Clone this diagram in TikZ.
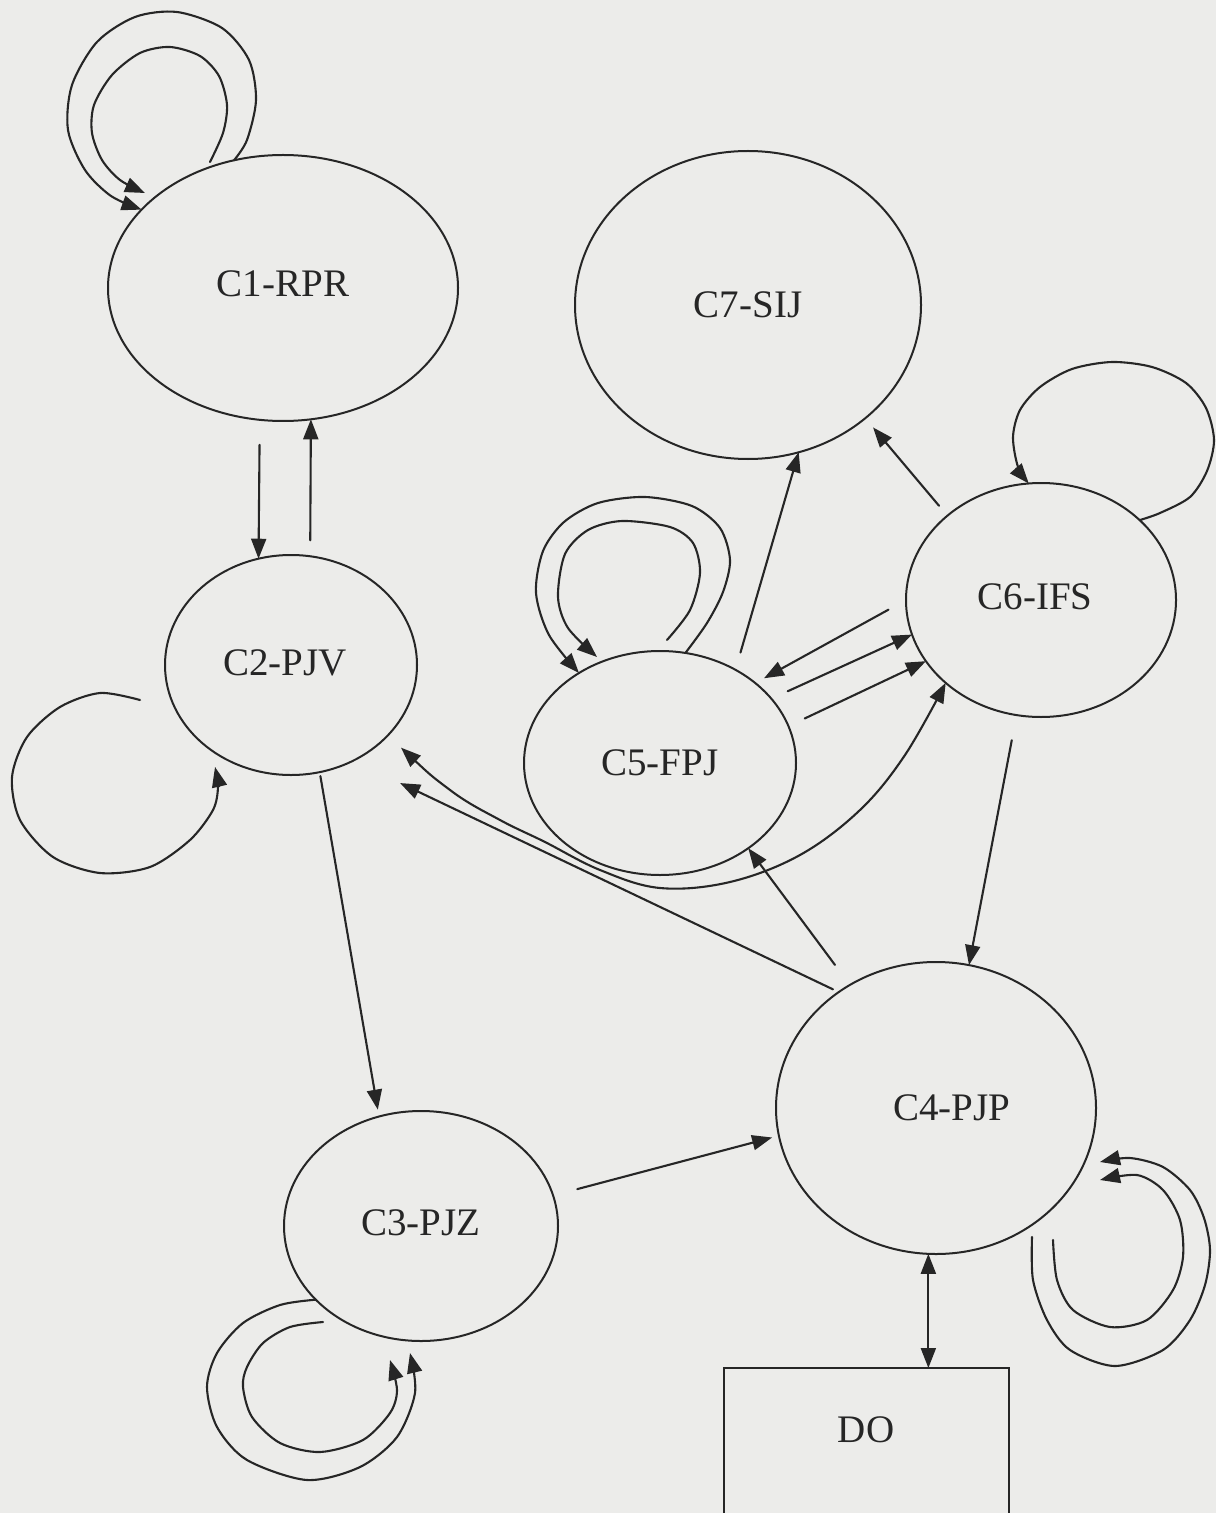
\documentclass[tikz,border=0pt]{standalone}
\usepackage{fontspec}
\setmainfont{Liberation Serif}
\usetikzlibrary{shapes.geometric,arrows.meta,calc}
\definecolor{paper}{RGB}{236,236,234}
\definecolor{ink}{RGB}{38,38,38}
\begin{document}
\begin{tikzpicture}[x=0.5pt,y=-0.5pt,
  >={Triangle[length=10pt,width=7.5pt]},
  state/.style={ellipse, draw=ink, line width=1pt, inner sep=0pt, outer sep=0pt,
    font=\fontsize{19.5}{22}\selectfont, text=ink},
  store/.style={rectangle, draw=ink, line width=1pt, inner sep=0pt, outer sep=0pt,
    font=\fontsize{19.5}{22}\selectfont, text=ink},
  link/.style={draw=ink, line width=1.05pt, line cap=round, ->},
  twoway/.style={draw=ink, line width=1.05pt, line cap=round, <->}]

% page
\path[use as bounding box] (0,0) rectangle (1216,1513);
\fill[paper] (0,0) rectangle (1216,1513);
\clip (0,0) rectangle (1216,1513);

% states
\node[state, minimum width=175pt, minimum height=133pt] (c1) at (283,288) {\raisebox{4pt}{C1-RPR}};
\node[state, minimum width=173pt, minimum height=154pt] (c7) at (748,305) {\raisebox{-3.5pt}{C7-SIJ}};
\node[state, minimum width=135pt, minimum height=117pt] (c6) at (1041,600) {\raisebox{3pt}{C6-IFS\hspace{6pt}}};
\node[state, minimum width=126pt, minimum height=110pt] (c2) at (291,665) {\raisebox{2pt}{C2-PJV\hspace{6pt}}};
\node[state, minimum width=136pt, minimum height=112pt] (c5) at (660,763) {\raisebox{-3.5pt}{C5-FPJ}};
\node[state, minimum width=160pt, minimum height=146pt] (c4) at (936,1108) {\raisebox{-2.5pt}{\hspace{16pt}C4-PJP}};
\node[state, minimum width=137pt, minimum height=115pt] (c3) at (421,1226) {\raisebox{3pt}{C3-PJZ}};
\node[store, anchor=base, minimum width=142.5pt, text height=37.25pt, text depth=53.75pt] (do) at (866,1442.5) {DO};

% transitions between states
\draw[link, shorten <=12.5pt] (c1.-100.8) -- (c2.107.3);
\draw[link, shorten <=8pt] (c2.80.1) -- (c1.-78.4);
\draw[link, shorten <=2pt, shorten >=3.5pt] (c2.-75.9) -- (c3.111.5);
\draw[link, shorten <=12.5pt, shorten >=3.5pt] (c3.13.5) -- (c4.190.5);
\draw[link, shorten <=12.5pt] (c4.125) -- (c5.-44.1);
\draw[link, shorten <=3.2pt, shorten >=26pt] (c4.130.4) -- (c2.-57);
\draw[link, shorten <=9pt] (c5.51.5) -- (c7.-71.2);
\draw[link, shorten <=6.5pt, shorten >=6pt] (c6.138.7) -- (c7.-44.8);
\draw[link, shorten <=10pt, shorten >=5pt] (c6.180) -- (c5.40.8);
\draw[link, shorten <=9pt] (c5.30.2) -- (c6.195.8);
\draw[link, shorten <=9pt] (c5.16.2) -- (c6.208.3);
\draw[link, shorten <=12.8pt] (c6.-102.9) -- (c4.77.8);
\draw[twoway] (c4.-93.5) -- (c4.-93.5 |- do.north);

% curved two-way link C2 -- C6 running just under C5
\draw[twoway, shorten <=9pt] plot[smooth, tension=0.6] coordinates {(c2.-36) (450,790) (500,820)
  (545,842) (600,870) (660,888) (730,882) (800,855) (860,810) (905,755) (c6.221.2)};

% self loops
\coordinate (c1in) at (210,162);
\coordinate (c1inTip) at (145,193);
\draw[link] plot[smooth] coordinates {(c1.111.4) (247,140) (256,100) (249,60) (222,28) (177,12)
  (135,17) (97,42) (72,85) (68,130) (85,170) (111,196) (c1.151.4)};
\draw[link] plot[smooth] coordinates {(c1in) (223,133) (227,105) (219,76) (200,56) (170,47)
  (140,53) (112,75) (94,105) (92,133) (102,160) (120,180) (c1inTip)};

\coordinate (c2lp) at (140,700);
\coordinate (c2lpTip) at (215,767);
\draw[link] plot[smooth] coordinates {(c2lp) (100,693) (60,707) (27,737) (12,777) (20,820)
  (53,857) (100,873) (150,867) (190,840) (213,810) (218,787) (c2lpTip)};

\coordinate (c3oTip) at (410,1353);
\coordinate (c3in) at (323,1322);
\coordinate (c3iTip) at (390,1360);
\draw[link] plot[smooth] coordinates {(c3.215.1) (280,1305) (243,1323) (217,1353) (207,1387)
  (217,1427) (247,1460) (307,1480) (360,1467) (397,1437) (415,1393) (c3oTip)};
\draw[link] plot[smooth] coordinates {(c3in) (290,1327) (263,1343) (247,1367) (243,1387)
  (252,1417) (280,1443) (320,1452) (363,1440) (390,1413) (397,1390) (c3iTip)};

\coordinate (c5in) at (667,640);
\coordinate (c5inTip) at (597,657);
\draw[link] plot[smooth] coordinates {(c5.77.4) (707,623) (723,592) (730,560) (720,528)
  (692,506) (645,497) (598,503) (564,522) (543,551) (536,593) (549,635) (c5.132)};
\draw[link] plot[smooth] coordinates {(c5in) (690,610) (700,573) (693,543) (670,527) (622,521)
  (588,530) (565,554) (558,597) (568,628) (c5inTip)};

\draw[link] plot[smooth] coordinates {(c6.39.9) (1160,513) (1190,497) (1207,471) (1214,440)
  (1206,408) (1186,383) (1152,367) (1112,362) (1072,369) (1040,387) (1020,410) (1013,437)
  (1018,467) (c6.96.9)};

\coordinate (c4oStart) at (1032,1237);
\coordinate (c4oTip) at (1100,1162);
\coordinate (c4iStart) at (1053,1240);
\coordinate (c4iTip) at (1100,1180);
\draw[link] plot[smooth] coordinates {(c4oStart) (1033,1280) (1047,1320) (1070,1350) (1115,1366)
  (1163,1350) (1190,1320) (1205,1285) (1210,1250) (1204,1218) (1190,1190) (1163,1167)
  (1130,1158) (c4oTip)};
\draw[link] plot[smooth] coordinates {(c4iStart) (1057,1280) (1073,1310) (1110,1327) (1147,1320)
  (1173,1290) (1183,1257) (1180,1220) (1163,1190) (1137,1175) (c4iTip)};
\end{tikzpicture}
\end{document}
